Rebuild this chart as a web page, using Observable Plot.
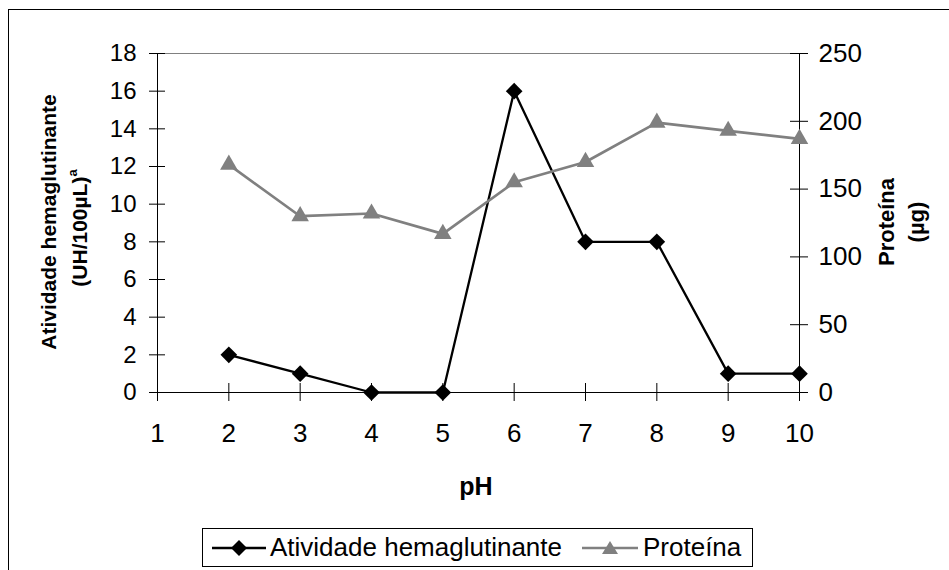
<!DOCTYPE html>
<html><head><meta charset="utf-8">
<script src="https://cdn.jsdelivr.net/npm/d3@7"></script>
<script src="https://cdn.jsdelivr.net/npm/@observablehq/plot@0.6"></script>
<style>
body{margin:0;background:#fff;}
#wrap{position:relative;width:949px;height:570px;overflow:hidden;background:#fff;font-family:"Liberation Sans",Arial,sans-serif;color:#000;}
#wrap svg{position:absolute;left:0;top:0;}
.border{position:absolute;left:8px;top:9px;width:1200px;height:1200px;border:1px solid #000;}
.vt{position:absolute;width:400px;text-align:center;font-weight:bold;white-space:nowrap;transform:translate(-50%,-50%) rotate(-90deg);transform-origin:50% 50%;}
.vt sup{font-size:0.62em;vertical-align:0;position:relative;top:-0.75em;}
#ph{position:absolute;font-weight:bold;font-size:25px;transform:translate(-50%,0);}
#legend{position:absolute;left:202px;top:528px;width:549px;height:37px;border:1px solid #000;font-size:26px;}
#legend .it{position:absolute;top:0;height:37px;line-height:37px;white-space:nowrap;}
#legend svg{position:absolute;}
</style></head><body><div id="wrap"><div class="border"></div></div>
<script>
const pH = [2, 3, 4, 5, 6, 7, 8, 9, 10];
const atividade = [2, 1, 0, 0, 16, 8, 8, 1, 1];
const proteina = [168, 130, 132, 117, 155, 170, 199, 193, 187];
const xTicks = [1, 2, 3, 4, 5, 6, 7, 8, 9, 10];
const yLeftTicks = [0, 2, 4, 6, 8, 10, 12, 14, 16, 18];
const yRightTicks = [0, 50, 100, 150, 200, 250];
const seriesNames = ["Atividade hemaglutinante", "Proteína"];

const rowsA = pH.map((p, i) => ({pH: p, v: atividade[i]}));
const rowsP = pH.map((p, i) => ({pH: p, v: proteina[i]}));

const dims = {width: 949, height: 570, marginLeft: 157, marginRight: 150, marginTop: 53, marginBottom: 178};
const font = {fontFamily: '"Liberation Sans", Arial, sans-serif', fontSize: "26px", color: "#000", background: "transparent", overflow: "visible"};
const xDomain = [xTicks[0], xTicks[xTicks.length - 1]];

const left = Plot.plot({
  ...dims, style: font,
  x: {domain: xDomain},
  y: {domain: [yLeftTicks[0], yLeftTicks[yLeftTicks.length - 1]]},
  marks: [
    Plot.ruleY([yLeftTicks[yLeftTicks.length - 1]], {stroke: "#808080", strokeWidth: 1.2}),
    Plot.axisY({ticks: yLeftTicks, tickSize: 0, tickPadding: 21, label: null, fontSize: 24}),
    Plot.ruleY(yLeftTicks.slice(1), {y: d => d, x1: xDomain[0], x2: xDomain[0], insetLeft: -8, insetRight: -8, stroke: "#000"}),
    Plot.ruleY(yLeftTicks.slice(0, 1), {y: d => d, x1: xDomain[0], x2: xDomain[0], insetLeft: -8, insetRight: 0, stroke: "#000"}),
    Plot.axisX({ticks: xTicks, tickSize: 0, tickPadding: 31, label: null}),
    Plot.ruleX(xTicks.slice(1), {x: d => d, y1: 0, y2: 0, insetTop: -9, insetBottom: -9, stroke: "#000"}),
    Plot.ruleX(xTicks.slice(0, 1), {x: d => d, y1: 0, y2: 0, insetTop: 0, insetBottom: -9, stroke: "#000"}),
    Plot.ruleX([xDomain[0]], {stroke: "#000"}),
    Plot.ruleY([0], {stroke: "#000"}),
    Plot.line(rowsA, {x: "pH", y: "v", stroke: "#000", strokeWidth: 2.3}),
    Plot.dot(rowsA, {x: "pH", y: "v", symbol: "diamond2", r: 7.5, fill: "#000"})
  ]
});

const right = Plot.plot({
  ...dims, style: font,
  x: {domain: xDomain, axis: null},
  y: {domain: [yRightTicks[0], yRightTicks[yRightTicks.length - 1]]},
  marks: [
    Plot.axisY({anchor: "right", ticks: yRightTicks, tickSize: 0, tickPadding: 19, label: null}),
    Plot.ruleY(yRightTicks, {y: d => d, x1: xDomain[1], x2: xDomain[1], insetLeft: -9, insetRight: -9, stroke: "#000"}),
    Plot.ruleX([xDomain[1]], {stroke: "#000"}),
    Plot.line(rowsP, {x: "pH", y: "v", stroke: "#808080", strokeWidth: 2.7}),
    Plot.dot(rowsP, {x: "pH", y: "v", symbol: "triangle", r: 6.5, fill: "#808080"})
  ]
});

const wrap = document.getElementById("wrap");
wrap.appendChild(left);
wrap.appendChild(right);

function vtitle(html, cx, cy, size) {
  const d = document.createElement("div");
  d.className = "vt";
  d.style.left = cx + "px";
  d.style.top = cy + "px";
  d.style.fontSize = size + "px";
  d.innerHTML = html;
  wrap.appendChild(d);
}
vtitle("Atividade hemaglutinante", 49, 222, 21);
vtitle("(UH/100µL)<sup>a</sup>", 80, 228, 21);
vtitle("Proteína", 887, 222, 22);
vtitle("(µg)", 917, 222, 22);

const ph = document.createElement("div");
ph.id = "ph";
ph.style.left = "476px";
ph.style.top = "472px";
ph.textContent = "pH";
wrap.appendChild(ph);

const lg = document.createElement("div");
lg.id = "legend";
lg.innerHTML = `
<svg style="left:8px;top:8px" width="56" height="22"><line x1="1" y1="11" x2="55" y2="11" stroke="#000" stroke-width="2.3"/><path d="M28,3 L36,11 L28,19 L20,11 Z" fill="#000"/></svg>
<div class="it" style="left:67px">${seriesNames[0]}</div>
<svg style="left:378px;top:8px" width="58" height="22"><line x1="1" y1="11" x2="57" y2="11" stroke="#808080" stroke-width="2.7"/><path d="M29,4 L37,17 L21,17 Z" fill="#808080"/></svg>
<div class="it" style="left:440px">${seriesNames[1]}</div>`;
wrap.appendChild(lg);
</script>
</body></html>
